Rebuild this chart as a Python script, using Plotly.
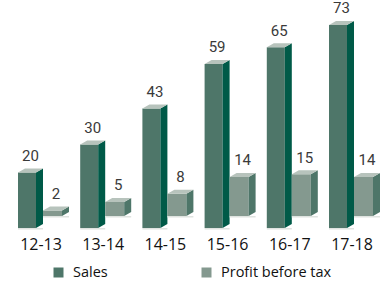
import plotly.graph_objects as go

categories = ["12-13", "13-14", "14-15", "15-16", "16-17", "17-18"]
sales = [20, 30, 43, 59, 65, 73]
profit = [2, 5, 8, 14, 15, 14]
series_names = ["Sales", "Profit before tax"]

# pixel geometry helpers (category spacing / value scale)
PX_CAT = 62.2
PX_UNIT = 2.78
X0_PX = 43.5      # pixel x of first group center
Y0_PX = 228.0     # pixel y of value 0
W, H = 384, 281


def dxp(p):
    return p / PX_CAT


def dyp(p):
    return p / PX_UNIT


DX = dxp(7)
DY = dyp(4)

colors = {
    "Sales": dict(front="#4e7669", side="#005a48", top="#b7c3bc"),
    "Profit before tax": dict(front="#84998f", side="#4e7669", top="#b7c3bc"),
}


def faces(lefts, width, bases, values):
    fr, sd, tp, sh = ([], []), ([], []), ([], []), ([], [])
    for L, B, v in zip(lefts, bases, values):
        R = L + width
        T = B + v
        for (xs, ys), pts in (
            (fr, [(L, B), (R, B), (R, T), (L, T)]),
            (sd, [(R, B), (R + DX, B + DY), (R + DX, T + DY), (R, T)]),
            (tp, [(L, T), (R, T), (R + DX, T + DY), (L + DX, T + DY)]),
            (sh, [(L, B), (R + DX, B), (R + DX, B - dyp(1.5)), (L, B - dyp(1.5))]),
        ):
            for x, y in pts:
                xs.append(x)
                ys.append(y)
            xs.append(pts[0][0]); ys.append(pts[0][1])
            xs.append(None); ys.append(None)
    return fr, sd, tp, sh


fig = go.Figure()

idx = list(range(len(categories)))
sales_left = [i + dxp(-25.5) for i in idx]
profit_left = [i + dxp(-0.5) for i in idx]
profit_base = dyp(12)

bar_sets = [
    ("Sales", sales_left, dxp(18), [0] * len(idx), sales),
    ("Profit before tax", profit_left, dxp(19), [profit_base] * len(idx), profit),
]

for name, lefts, width, bases, vals in bar_sets:
    fr, sd, tp, sh = faces(lefts, width, bases, vals)
    c = colors[name]
    for (xs, ys), col in ((sh, "#dfe3e0"), (fr, c["front"]), (sd, c["side"]), (tp, c["top"])):
        fig.add_trace(go.Scatter(
            x=xs, y=ys, mode="lines", fill="toself", fillcolor=col,
            line=dict(width=0, color=col), hoverinfo="skip", showlegend=False,
        ))

VAL_FONT = dict(family="Liberation Sans Narrow, Roboto, Open Sans", size=15, color="#3a3a3a")

# value labels
fig.add_trace(go.Scatter(
    x=[i + dxp(-13) for i in idx], y=[v + dyp(15.5) for v in sales],
    mode="text", text=[str(v) for v in sales], textposition="middle center",
    textfont=VAL_FONT, showlegend=False, hoverinfo="skip",
))
fig.add_trace(go.Scatter(
    x=[i + dxp(12.5) for i in idx], y=[profit_base + v + dyp(15.5) for v in profit],
    mode="text", text=[str(v) for v in profit], textposition="middle center",
    textfont=VAL_FONT, showlegend=False, hoverinfo="skip",
))

# category labels
fig.add_trace(go.Scatter(
    x=[i + dxp(-2.5) for i in idx], y=[dyp(-18)] * len(idx),
    mode="text", text=categories, textposition="middle center",
    textfont=dict(family="Open Sans", size=16, color="#111111"),
    showlegend=False, hoverinfo="skip",
))


def px_to_x(p):
    return (p - X0_PX) / PX_CAT


def py_to_y(p):
    return (Y0_PX - p) / PX_UNIT


# legend (manual)
leg_sq_px = [58.5, 206.5]
leg_txt_px = [72, 220]
for name, sqx, tx in zip(series_names, leg_sq_px, leg_txt_px):
    fig.add_trace(go.Scatter(
        x=[px_to_x(sqx)], y=[py_to_y(272.5)], mode="markers",
        marker=dict(symbol="square", size=10, color=colors[name]["front"], line=dict(width=0)),
        showlegend=False, hoverinfo="skip",
    ))
    fig.add_annotation(
        x=px_to_x(tx), y=py_to_y(271.5), xref="x", yref="y", text=name,
        showarrow=False, xanchor="left", yanchor="middle", borderpad=0,
        font=dict(family="Open Sans", size=14.5, color="#111111"),
    )

fig.update_layout(
    width=W, height=H,
    margin=dict(l=0, r=0, t=0, b=0),
    paper_bgcolor="white", plot_bgcolor="white",
    xaxis=dict(range=[px_to_x(0), px_to_x(W)], visible=False, fixedrange=True),
    yaxis=dict(range=[py_to_y(H), py_to_y(0)], visible=False, fixedrange=True),
    showlegend=False,
)

fig.write_html(
    "out.html",
    config={"displayModeBar": False},
    post_script="document.body.style.margin='0';document.body.style.overflow='hidden';",
)
